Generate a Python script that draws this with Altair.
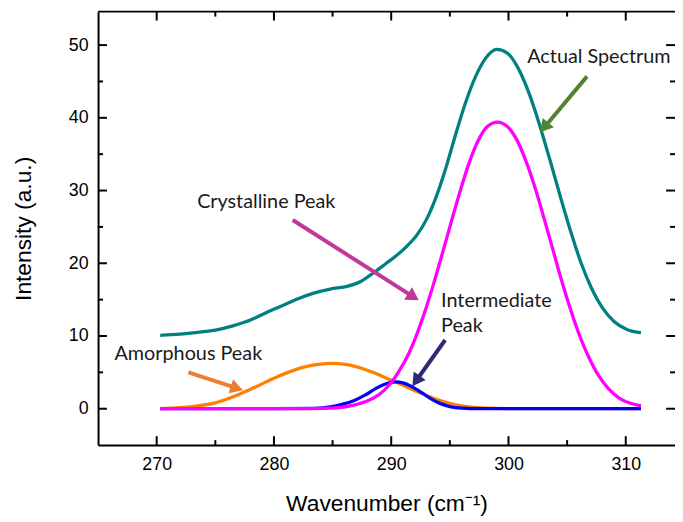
import math
import altair as alt
import pandas as pd

# ---------------- data ----------------
actual_x = [270.3, 272.0, 273.5, 275.1, 276.5, 278.0, 279.2, 280.6, 282.0, 283.4, 284.8,
            286.3, 287.4, 288.5, 289.5, 290.4, 291.3, 292.2, 293.0, 293.8, 294.6, 295.4,
            296.3, 297.2, 298.1, 299.0, 299.9, 300.8, 301.7, 302.6, 303.5, 304.4, 305.3,
            306.2, 307.1, 308.0, 309.0, 310.1, 311.3]
actual_y = [10.1, 10.25, 10.5, 10.85, 11.4, 12.2, 13.1, 14.1, 15.1, 15.9, 16.45,
            16.85, 17.5, 18.7, 19.9, 21.0, 22.3, 23.9, 26.0, 29.0, 32.8, 37.2,
            41.9, 45.7, 48.3, 49.4, 48.9, 46.9, 43.6, 39.3, 34.4, 29.3, 24.4,
            20.0, 16.5, 13.9, 12.0, 10.9, 10.45]

cryst_x = [270.3, 274.0, 278.0, 282.0, 284.0, 285.5, 286.8, 288.0, 289.0, 289.8, 290.6,
           291.5, 292.2, 292.9, 293.6, 294.3, 295.0, 295.8, 296.6, 297.4, 298.2, 299.05,
           299.9, 300.7, 301.5, 302.3, 303.1, 303.8, 304.5, 305.3, 306.1, 306.9, 307.7,
           308.5, 309.5, 310.4, 311.3]
cryst_y = [0.0, 0.0, 0.0, 0.0, 0.05, 0.15, 0.5, 1.1, 2.0, 3.2, 5.0,
           7.6, 10.3, 13.5, 17.1, 21.0, 25.0, 29.5, 33.6, 36.8, 38.8, 39.4,
           38.8, 37.0, 34.0, 30.2, 25.8, 21.8, 17.8, 13.6, 9.9, 6.9, 4.5,
           2.8, 1.4, 0.75, 0.4]

amor_x = [270.3, 272.0, 273.5, 275.0, 276.3, 277.5, 278.7, 280.0, 281.2, 282.4, 283.6,
          285.1, 286.5, 287.6, 288.6, 289.6, 290.5, 291.5, 292.5, 293.5, 294.5, 295.6,
          296.8, 298.0, 300.0, 305.0, 311.3]
amor_y = [0.0, 0.15, 0.4, 0.8, 1.5, 2.3, 3.2, 4.2, 5.0, 5.65, 6.05,
          6.25, 6.0, 5.5, 4.9, 4.2, 3.6, 2.85, 2.15, 1.5, 0.95, 0.5,
          0.22, 0.08, 0.01, 0.0, 0.0]

inter_x = [270.3, 276.0, 280.0, 283.5, 284.8, 285.8, 286.8, 287.8, 288.7, 289.5, 290.3,
           291.0, 291.8, 292.6, 293.4, 294.2, 295.0, 296.0, 297.5, 301.0, 305.0, 311.3]
inter_y = [0.0, 0.0, 0.0, 0.05, 0.25, 0.6, 1.1, 1.9, 2.8, 3.4, 3.7,
           3.55, 3.0, 2.2, 1.35, 0.7, 0.3, 0.08, 0.0, 0.0, 0.0, 0.0]

x_major = [270, 280, 290, 300, 310]
x_minor = [275, 285, 295, 305]
y_major = [0, 10, 20, 30, 40, 50]
y_minor = [5, 15, 25, 35, 45]

note_text = ["Actual Spectrum", "Crystalline Peak", "Intermediate", "Peak", "Amorphous Peak"]
note_x = [301.6, 273.45, 294.25, 294.25, 266.4]
note_y = [48.3, 28.4, 14.8, 11.35, 7.55]

arrow_x0 = [306.7, 281.6, 294.6, 272.7]
arrow_y0 = [45.7, 25.95, 9.45, 5.0]
arrow_x1 = [302.7, 292.35, 291.8, 277.35]
arrow_y1 = [38.0, 14.9, 3.1, 2.55]
arrow_col = ["#548235", "#c0399a", "#2e2a78", "#ed7d31"]

# ---------------- layout ----------------
W, H = 583, 438
XD = [265, 314.2]
YD = [-5, 54.6]
kx = W / (XD[1] - XD[0])
ky = H / (YD[1] - YD[0])
HEAD = 220
head_h = math.sqrt(3) * math.sqrt(HEAD) / 4

FONT = "Liberation Sans"
xs = alt.Scale(domain=XD, nice=False, zero=False)
ys = alt.Scale(domain=YD, nice=False, zero=False)
xaxis = alt.Axis(values=x_major, ticks=False, grid=False, domain=True, domainColor="black",
                 domainWidth=2, labelFont=FONT, labelFontSize=18, labelColor="black",
                 labelPadding=11, labelFlush=False, labelOverlap=False,
                 titleFont=FONT, titleFontSize=23, titleFontWeight="normal",
                 titleColor="black", titlePadding=19)
yaxis = alt.Axis(values=y_major, ticks=False, grid=False, domain=True, domainColor="black",
                 domainWidth=2, labelFont=FONT, labelFontSize=18, labelColor="black",
                 labelPadding=10, labelFlush=False, labelOverlap=False,
                 titleFont=FONT, titleFontSize=23, titleFontWeight="normal",
                 titleColor="black", titlePadding=33)

XT = "Wavenumber (cm\u207b\u00b9)"
YT = "Intensity (a.u.)"


def X(f="x"):
    return alt.X(f + ":Q", scale=xs, axis=xaxis, title=XT)


def Y(f="y"):
    return alt.Y(f + ":Q", scale=ys, axis=yaxis, title=YT)


layers = []
for cx, cy, col in [(actual_x, actual_y, "#008080"), (amor_x, amor_y, "#ff8000"),
                    (inter_x, inter_y, "#0000ff"), (cryst_x, cryst_y, "#ff00ff")]:
    layers.append(
        alt.Chart(pd.DataFrame({"x": cx, "y": cy}))
        .mark_line(color=col, strokeWidth=3.3, interpolate="monotone")
        .encode(x=X(), y=Y())
    )

# inward ticks on all four sides
for vals, ln in [(x_major, 9), (x_minor, 5)]:
    d = pd.DataFrame({"x": vals})
    layers.append(alt.Chart(d).mark_rule(color="black", strokeWidth=2)
                  .encode(x=X(), y=alt.value(H), y2=alt.value(H - ln)))
    layers.append(alt.Chart(d).mark_rule(color="black", strokeWidth=2)
                  .encode(x=X(), y=alt.value(0), y2=alt.value(ln)))
for vals, ln in [(y_major, 9), (y_minor, 5)]:
    d = pd.DataFrame({"y": vals})
    layers.append(alt.Chart(d).mark_rule(color="black", strokeWidth=2)
                  .encode(y=Y(), x=alt.value(0), x2=alt.value(ln)))
    layers.append(alt.Chart(d).mark_rule(color="black", strokeWidth=2)
                  .encode(y=Y(), x=alt.value(W), x2=alt.value(W - ln)))

# top frame line
layers.append(alt.Chart(pd.DataFrame({"x": [XD[0]], "x2": [XD[1]]}))
              .mark_rule(color="black", strokeWidth=2)
              .encode(x=X(), x2="x2:Q", y=alt.value(0)))

# arrows
rows = []
for x0, y0, x1, y1, c in zip(arrow_x0, arrow_y0, arrow_x1, arrow_y1, arrow_col):
    dxp = (x1 - x0) * kx
    dyp = -(y1 - y0) * ky
    L = math.hypot(dxp, dyp)
    ux, uy = dxp / L, dyp / L
    ang = math.degrees(math.atan2(dxp, -dyp)) % 360
    cxp = x1 - ux * head_h / kx
    cyp = y1 + uy * head_h / ky
    rows.append({"x": x0, "y": y0, "x2": cxp, "y2": cyp, "hx": cxp, "hy": cyp,
                 "angle": ang, "color": c})
arr = pd.DataFrame(rows)
layers.append(alt.Chart(arr).mark_rule(strokeWidth=4)
              .encode(x=X(), y=Y(), x2="x2:Q", y2="y2:Q",
                      color=alt.Color("color:N", scale=None)))
layers.append(alt.Chart(arr).mark_point(shape="triangle-up", filled=True, size=HEAD, opacity=1)
              .encode(x=X("hx"), y=Y("hy"), angle=alt.Angle("angle:Q", scale=None),
                      color=alt.Color("color:N", scale=None)))

# annotation text
notes = pd.DataFrame({"x": note_x, "y": note_y, "t": note_text})
layers.append(alt.Chart(notes).mark_text(align="left", baseline="middle", font="Lato",
                                         fontSize=20, color="#1a1a1a")
              .encode(x=X(), y=Y(), text="t:N"))

chart = (
    alt.layer(*layers)
    .properties(width=W, height=H,
                padding={"left": 91, "top": 1, "right": 0, "bottom": 70},
                autosize=alt.AutoSizeParams(type="none"))
    .configure_view(stroke=None)
)

chart.save("out.html", embed_options={"renderer": "svg", "actions": False})
